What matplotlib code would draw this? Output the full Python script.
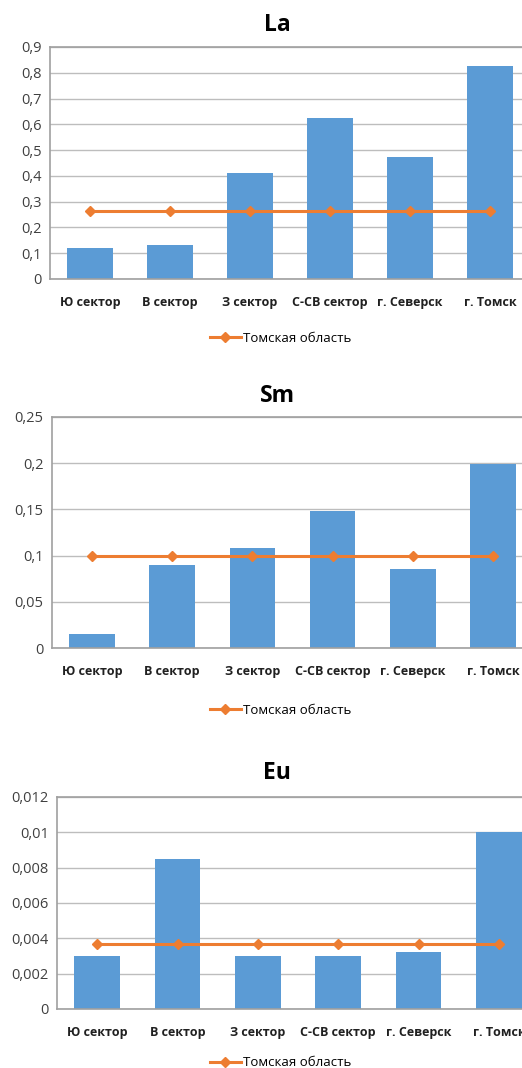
import matplotlib
matplotlib.use("Agg")
import matplotlib.pyplot as plt
import numpy as np

categories = ["Ю сектор", "В сектор", "З сектор", "С-СВ сектор", "г. Северск", "г. Томск"]

la_values = [0.12, 0.13, 0.41, 0.625, 0.472, 0.825]
la_region = 0.265
la_ticks = [0, 0.1, 0.2, 0.3, 0.4, 0.5, 0.6, 0.7, 0.8, 0.9]

sm_values = [0.015, 0.09, 0.108, 0.148, 0.086, 0.199]
sm_region = 0.1
sm_ticks = [0, 0.05, 0.1, 0.15, 0.2, 0.25]

eu_values = [0.003, 0.0085, 0.003, 0.003, 0.00325, 0.01]
eu_region = 0.0037
eu_ticks = [0, 0.002, 0.004, 0.006, 0.008, 0.01, 0.012]

legend_label = "Томская область"

BAR = "#5b9bd5"
LINE = "#ed7d31"
GRID = "#bdbdbd"

plt.rcParams["font.family"] = ["Open Sans", "DejaVu Sans"]

W, H = 522, 1068
fig = plt.figure(figsize=(W / 100, H / 100), dpi=100)


def px_axes(left, top, right, bottom):
    return fig.add_axes([left / W, 1 - bottom / H, (right - left) / W, (bottom - top) / H])


def panel(box, title, title_y, legend_y, values, region, ticks):
    ax = px_axes(*box)
    x = np.arange(len(categories))
    ax.bar(x, values, width=0.57, color=BAR, zorder=2)
    ax.plot(x, [region] * len(x), color=LINE, lw=2.2, marker="D", ms=5.5,
            zorder=3, label=legend_label)
    ax.set_xlim(-0.5, len(categories) - 0.5)
    ax.set_ylim(0, ticks[-1])
    ax.set_yticks(ticks)
    ax.set_yticklabels([f"{round(t, 4):g}".replace(".", ",") for t in ticks])
    ax.set_xticks(x)
    ax.set_xticklabels(categories, fontweight="bold")
    ax.tick_params(axis="x", length=0, pad=12, labelsize=9, colors="#202020")
    ax.tick_params(axis="y", length=0, pad=6, labelsize=10.5, colors="#404040")
    ax.grid(axis="y", color=GRID, lw=1, zorder=0)
    for s in ax.spines.values():
        s.set_color("#a0a0a0")
        s.set_linewidth(1.2)
    fig.text(277 / W, 1 - title_y / H, title, ha="center", va="center",
             fontsize=16.5, fontweight="bold")
    ax.legend(loc="center", bbox_to_anchor=(281 / W, 1 - legend_y / H),
              bbox_transform=fig.transFigure, frameon=False, fontsize=9.5,
              handlelength=2.3, handletextpad=0.2)
    return ax


panel((50, 47, 530, 279), "La", 25, 338, la_values, la_region, la_ticks)
panel((52, 417, 533, 648), "Sm", 396, 710, sm_values, sm_region, sm_ticks)
panel((57, 797, 539, 1009), "Eu", 773, 1063, eu_values, eu_region, eu_ticks)

fig.savefig("out.png", dpi=100)
